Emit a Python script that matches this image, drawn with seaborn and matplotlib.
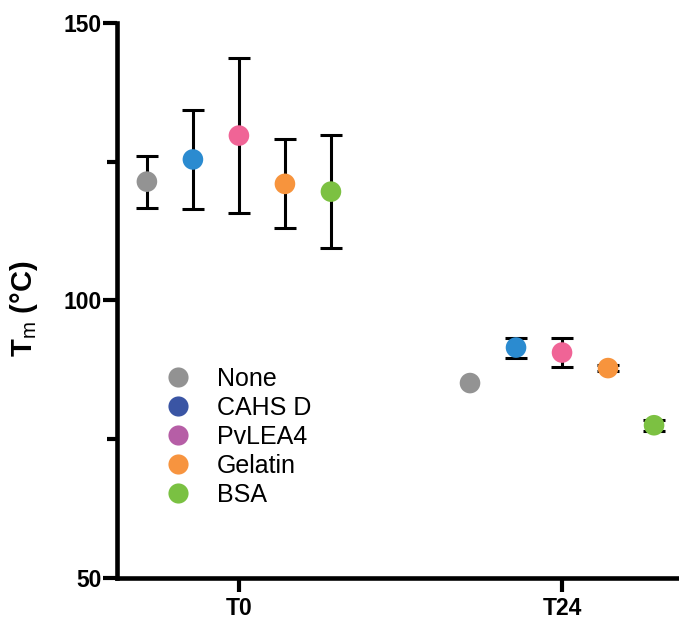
import numpy as np
import pandas as pd
import matplotlib
matplotlib.use("Agg")
import matplotlib.pyplot as plt
from matplotlib.lines import Line2D
import seaborn as sns

# ---- data ----
timepoints = ["T0", "T24"]
conditions = ["None", "CAHS D", "PvLEA4", "Gelatin", "BSA"]
tm_T0 = [121.4, 125.4, 129.7, 121.0, 119.6]
err_T0 = [4.7, 8.9, 14.0, 8.0, 10.2]
tm_T24 = [85.1, 91.5, 90.6, 87.8, 77.5]
err_T24 = [0.0, 1.8, 2.6, 0.5, 1.0]
point_colors = ["#939393", "#2b8bd0", "#f06496", "#f7943d", "#7cc142"]
legend_colors = ["#929292", "#3a55a4", "#b65ea6", "#f7943f", "#7ac142"]
y_ticks = [50, 100, 150]
y_minor = [75, 125]

sns.set_theme(style="white")
plt.rcParams["font.family"] = ["Liberation Sans", "DejaVu Sans"]
plt.rcParams["text.color"] = "black"
plt.rcParams["axes.labelcolor"] = "black"
plt.rcParams["xtick.color"] = "black"
plt.rcParams["ytick.color"] = "black"
plt.rcParams["mathtext.fontset"] = "custom"
plt.rcParams["mathtext.rm"] = "Liberation Sans"
plt.rcParams["mathtext.bf"] = "Liberation Sans:bold"

rows = []
dodge = 0.1424
for ti, (vals, errs) in enumerate([(tm_T0, err_T0), (tm_T24, err_T24)]):
    for ci, cond in enumerate(conditions):
        rows.append({"time": timepoints[ti], "cond": cond,
                     "x": ti + (ci - 2) * dodge, "tm": vals[ci], "err": errs[ci]})
df = pd.DataFrame(rows)
eb = df[df["err"] > 0]

fig = plt.figure(figsize=(6.79, 6.2), dpi=100)
ax = fig.add_axes([0.172, 0.068, 0.828, 0.895])

ax.errorbar(eb["x"], eb["tm"], yerr=eb["err"], fmt="none", ecolor="black",
            elinewidth=2.2, capsize=8, capthick=2.2, zorder=2)
sns.scatterplot(data=df, x="x", y="tm", hue="cond", hue_order=conditions,
                palette=point_colors, s=220, linewidth=0, ax=ax, zorder=3,
                legend=False)

ax.set_xlim(-0.378, 1.362)
ax.set_ylim(50, 150)
ax.set_xticks([0, 1])
ax.set_xticklabels(timepoints, fontsize=16.5, fontweight="bold")
ax.set_yticks(y_ticks)
ax.set_yticklabels([str(v) for v in y_ticks], fontsize=16.5, fontweight="bold")
ax.set_yticks(y_minor, minor=True)
ax.tick_params(axis="both", which="major", direction="out", length=10, width=3,
               color="black", pad=1, bottom=True, left=True)
ax.tick_params(axis="y", which="minor", direction="out", length=7, width=3,
               color="black", left=True)
ax.tick_params(axis="x", which="major", pad=4)
for s in ["top", "right"]:
    ax.spines[s].set_visible(False)
for s in ["left", "bottom"]:
    ax.spines[s].set_linewidth(3.3)
    ax.spines[s].set_color("black")
ax.set_xlabel("")
ax.set_ylabel(r"T$_{\mathrm{m}}$ (°C)", fontsize=21, fontweight="bold")
ax.yaxis.set_label_coords(-0.137, 0.485)
ax.grid(False)

handles = [Line2D([0], [0], marker="o", linestyle="none", markersize=14.5,
                  markerfacecolor=c, markeredgewidth=0) for c in legend_colors]
ax.legend(handles, conditions, loc="upper left", bbox_to_anchor=(0.068, 0.398),
          frameon=False, fontsize=18, handlelength=1.0, handletextpad=1.06,
          labelspacing=0.2, borderaxespad=0)

fig.savefig("out.png", dpi=100)
